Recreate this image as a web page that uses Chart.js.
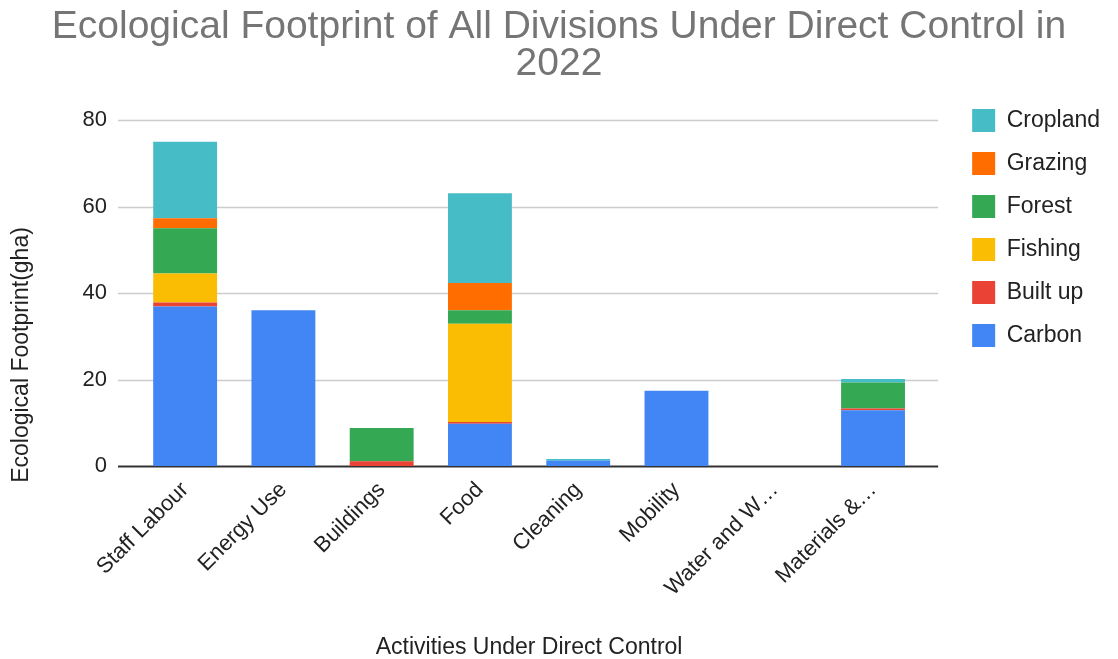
<!DOCTYPE html>
<html>
<head>
<meta charset="utf-8">
<script src="https://cdn.jsdelivr.net/npm/chart.js@4"></script>
<style>
  body { margin: 0; background: #fff; }
  #wrap { width: 1118px; height: 659px; }
</style>
</head>
<body>
<div id="wrap"><canvas id="footprintChart"></canvas></div>
<script>
// Categories and series (gha)
const activities = ['Staff Labour', 'Energy Use', 'Buildings', 'Food', 'Cleaning', 'Mobility', 'Water and W\u2026', 'Materials &\u2026'];
const carbon   = [36.9, 36.0, 0,   9.8,  1.2, 17.4, 0, 12.9];
const builtUp  = [0.9,  0,    1.1, 0.4,  0,   0,    0, 0.4];
const fishing  = [6.7,  0,    0,   22.7, 0,   0,    0, 0];
const forest   = [10.5, 0,    7.7, 3.1,  0,   0,    0, 6.0];
const grazing  = [2.3,  0,    0,   6.3,  0,   0,    0, 0];
const cropland = [17.7, 0,    0,   20.8, 0.4, 0,    0, 0.8];
const yTicks = [0, 20, 40, 60, 80];
const yTitle = 'Ecological Footprint(gha)';

const FONT = 'Liberation Sans, Arial, sans-serif';

// grid lines in google charts reach a bit past the bars,
// and the y title sits centred on the whole chart rather than the plot
const gridPlugin = {
  id: 'wideGrid',
  beforeDatasetsDraw(chart) {
    const ctx = chart.ctx, area = chart.chartArea, y = chart.scales.y;
    ctx.save();
    yTicks.forEach(v => {
      const py = Math.round(y.getPixelForValue(v)) + 0.5;
      ctx.beginPath();
      ctx.strokeStyle = v === 0 ? '#333333' : '#cccccc';
      ctx.lineWidth = v === 0 ? 2 : 1.5;
      ctx.moveTo(area.left - 18, py);
      ctx.lineTo(area.right + 16, py);
      ctx.stroke();
    });
    ctx.translate(22, 355);
    ctx.rotate(-Math.PI / 2);
    ctx.fillStyle = '#222222';
    ctx.font = '23px ' + FONT;
    ctx.textAlign = 'center';
    ctx.textBaseline = 'middle';
    ctx.fillText(yTitle, 0, 0);
    ctx.restore();
  }
};

var el = document.getElementById('footprintChart');
const chart = new Chart(el, {
  type: 'bar',
  data: {
    labels: activities,
    datasets: [
      { label: 'Carbon',   data: carbon,   backgroundColor: '#4285f4' },
      { label: 'Built up', data: builtUp,  backgroundColor: '#ea4335' },
      { label: 'Fishing',  data: fishing,  backgroundColor: '#fbbc04' },
      { label: 'Forest',   data: forest,   backgroundColor: '#34a853' },
      { label: 'Grazing',  data: grazing,  backgroundColor: '#ff6d01' },
      { label: 'Cropland', data: cropland, backgroundColor: '#46bdc6' }
    ]
  },
  options: {
    responsive: true,
    maintainAspectRatio: false,
    animation: false,
    barPercentage: 0.65,
    categoryPercentage: 1,
    layout: { padding: { left: 8, right: 8, top: 0, bottom: 0 } },
    plugins: {
      title: {
        display: true,
        text: ['Ecological Footprint of All Divisions Under Direct Control in', '2022'],
        color: '#757575',
        font: { family: FONT, size: 39, weight: 'normal', lineHeight: 0.95 },
        padding: { top: 9, bottom: 37 }
      },
      legend: {
        position: 'right',
        align: 'start',
        reverse: true,
        title: { display: true, text: '', font: { size: 1, lineHeight: 1 }, padding: { top: 0, bottom: 88 } },
        labels: {
          boxWidth: 23,
          boxHeight: 23,
          padding: 20,
          color: '#222222',
          font: { family: FONT, size: 23 }
        }
      },
      tooltip: { enabled: false }
    },
    scales: {
      x: {
        stacked: true,
        grid: { display: false },
        border: { display: false },
        afterFit: s => { s.height = 193; },
        ticks: {
          color: '#222222',
          font: { family: FONT, size: 22 },
          maxRotation: 45,
          minRotation: 45,
          autoSkip: false
        },
        title: {
          display: true,
          text: 'Activities Under Direct Control',
          color: '#222222',
          font: { family: FONT, size: 23, lineHeight: 1 },
          padding: { top: 0, bottom: 0 }
        }
      },
      y: {
        stacked: true,
        min: 0,
        max: 80,
        grid: { display: false },
        border: { display: false },
        afterFit: s => { s.width = 128; },
        afterBuildTicks: s => { s.ticks = yTicks.map(v => ({ value: v })); },
        ticks: {
          color: '#222222',
          padding: 21,
          font: { family: FONT, size: 22 }
        }
      },
      gap: {
        type: 'linear',
        position: 'right',
        display: true,
        grid: { display: false },
        border: { display: false },
        ticks: { display: false },
        afterFit: s => { s.width = 30; }
      }
    }
  },
  plugins: [gridPlugin]
});
</script>
</body>
</html>
